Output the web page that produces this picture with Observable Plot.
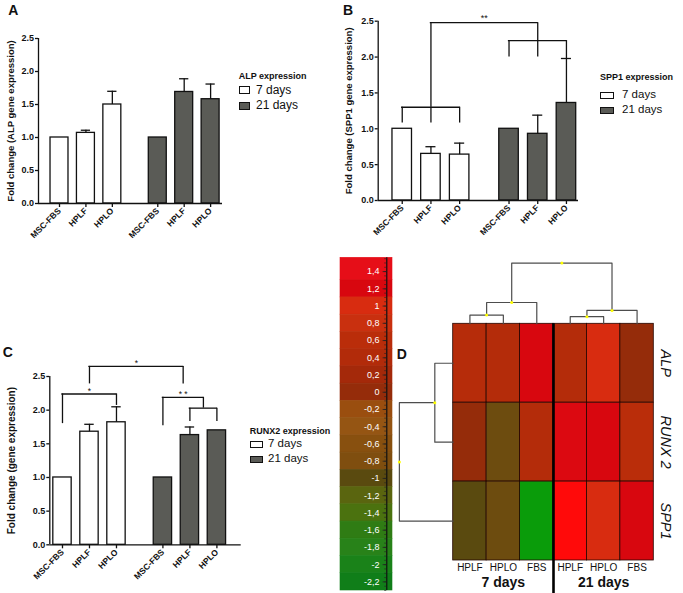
<!DOCTYPE html>
<html><head><meta charset="utf-8">
<script src="https://cdn.jsdelivr.net/npm/d3@7"></script>
<script src="https://cdn.jsdelivr.net/npm/@observablehq/plot@0.6"></script>
<style>
body{margin:0;background:#fff;}
#root{position:relative;width:683px;height:593px;overflow:hidden;font-family:"Liberation Sans",Arial,sans-serif;color:#111;}
</style></head><body><div id="root"></div>
<script>
// ---------- data ----------
const samples = ["MSC-FBS","HPLF","HPLO","MSC-FBS","HPLF","HPLO"];
const days = ["7 days","7 days","7 days","21 days","21 days","21 days"];
const yTicks = [0, 0.5, 1, 1.5, 2, 2.5];

const alpMean  = [1.00, 1.07, 1.50, 1.00, 1.69, 1.58];
const alpErr   = [0, 0.04, 0.20, 0, 0.20, 0.23];
const spp1Mean = [1.00, 0.65, 0.64, 1.00, 0.93, 1.36];
const spp1Err  = [0, 0.10, 0.16, 0, 0.26, 0.62];
const runx2Mean = [1.00, 1.68, 1.82, 1.00, 1.63, 1.70];
const runx2Err  = [0, 0.11, 0.23, 0, 0.12, 0];

// significance brackets: "at" = bar index or id of a sub-bracket (its midpoint)
const spp1Brackets = [
  {id: "L", at: [0, 1, 2], level: 1.30, ends: [1.08, 1.08, 1.08]},
  {id: "R", at: [3, 4, 5], level: 2.23, ends: [2.00, 2.00, 1.98]},
  {id: "T", at: ["L", "R"], level: 2.48, ends: [1.30, 2.23], label: "**"}
];
const runx2Brackets = [
  {id: "a", at: [0, 2], level: 2.24, ends: [1.80, 2.07], label: "*"},
  {id: "c", at: [4, 5], level: 2.03, ends: [1.83, 1.83]},
  {id: "b", at: [3, "c"], level: 2.19, ends: [1.77, 2.03], label: "* *"},
  {id: "d", at: [1, "b"], level: 2.65, ends: [2.39, 2.39], label: "*"}
];

// heatmap
const heatRows = ["ALP", "RUNX 2", "SPP1"];
const heatCols = ["HPLF", "HPLO", "FBS", "HPLF", "HPLO", "FBS"];
const heatGroups = ["7 days", "21 days"];
const heatALP   = [0.50, 0.45, 1.20, 0.45, 1.00, 0.00];
const heatRUNX2 = [0.00, -0.90, 0.45, 1.25, 1.20, 0.60];
const heatSPP1  = [-1.00, -0.90, -2.60, 1.60, 1.00, 1.20];
const colLinkage = [[0, 1, 0.11], [6, 2, 0.27], [3, 4, 0.09], [8, 5, 0.17], [7, 9, 0.77]];
const rowLinkage = [[0, 1, 0.55], [3, 2, 1.61]];

const scaleTicks  = [1.4, 1.2, 1, 0.8, 0.6, 0.4, 0.2, 0, -0.2, -0.4, -0.6, -0.8, -1, -1.2, -1.4, -1.6, -1.8, -2, -2.2];
const scaleColors = ["#e60e18","#d8070f","#d82c10","#c9300f","#ba2d0a","#b22b0a","#a4290a","#952c0a","#9a4e0f","#955513",
                     "#88500f","#7f4e0f","#5a4a0f","#5a650f","#4b720f","#2f7c14","#288219","#1a8219","#107e19"];
const extremeLow = [-2.6, "#0a9c0a"];
const extremeHigh = [1.6, "#ff0a0a"];

// ---------- layout helpers ----------
const FONT = "'Liberation Sans', Arial, sans-serif";
const root = document.getElementById("root");
function place(el, left, top) {
  const d = document.createElement("div");
  d.style.cssText = `position:absolute;left:${left}px;top:${top}px;`;
  d.appendChild(el); root.appendChild(d);
}
function addText(txt, left, top, css) {
  const d = document.createElement("div");
  d.textContent = txt;
  d.style.cssText = `position:absolute;left:${left}px;top:${top}px;line-height:1;white-space:nowrap;${css}`;
  root.appendChild(d);
}
function addBox(left, top, w, h, fill) {
  const d = document.createElement("div");
  d.style.cssText = `position:absolute;left:${left}px;top:${top}px;width:${w}px;height:${h}px;box-sizing:border-box;border:1.3px solid #111;background:${fill};`;
  root.appendChild(d);
}

const GAP = 0.72, BW = 0.68, CAP = 0.175;
const pos = i => i + (i >= 3 ? GAP : 0);
const DARK = "#5a5b56";

function resolveBrackets(defs) {
  const byId = new Map();
  return defs.map(b => {
    const xs = b.at.map(a => typeof a === "number" ? pos(a) : byId.get(a).mid);
    const x1 = d3.min(xs), x2 = d3.max(xs);
    const r = {...b, xs, x1, x2, mid: (x1 + x2) / 2};
    byId.set(b.id, r);
    return r;
  });
}

function barPanel(cfg) {
  const rows = samples.map((s, i) => ({x: pos(i), s, day: days[i], v: cfg.mean[i], e: cfg.err[i]}));
  const lab = new Map(rows.map(r => [r.x, r.s]));
  const withErr = rows.filter(r => r.e > 0);
  const br = resolveBrackets(cfg.brackets || []);
  const drops = br.flatMap(b => b.xs.map((x, j) => ({x, y1: b.ends[j], y2: b.level})));
  const ink = {stroke: "#111", strokeWidth: 1.3};
  const svg = Plot.plot({
    width: cfg.width, height: cfg.height,
    marginLeft: cfg.m[0], marginRight: cfg.m[1], marginTop: cfg.m[2], marginBottom: cfg.m[3],
    x: {domain: cfg.xDom}, y: {domain: [0, 2.5]},
    style: {fontFamily: FONT, fontSize: "9px", fontWeight: "bold", color: "#111", background: "none", overflow: "visible"},
    marks: [
      Plot.rect(rows.filter(r => r.day === days[0]), {x1: r => r.x - BW / 2, x2: r => r.x + BW / 2, y1: 0, y2: "v", fill: "#fff", ...ink}),
      Plot.rect(rows.filter(r => r.day !== days[0]), {x1: r => r.x - BW / 2, x2: r => r.x + BW / 2, y1: 0, y2: "v", fill: DARK, ...ink}),
      Plot.ruleX(withErr, {x: "x", y1: "v", y2: r => r.v + r.e, ...ink}),
      Plot.ruleY(withErr, {y: r => r.v + r.e, x1: r => r.x - CAP, x2: r => r.x + CAP, ...ink}),
      Plot.ruleY([0], ink),
      Plot.ruleX([cfg.xDom[0]], {y1: 0, y2: 2.5, ...ink}),
      Plot.axisY(yTicks, {tickFormat: d3.format(".1f"), tickSize: 3, tickPadding: 1.5, strokeWidth: 1.3, label: null}),
      Plot.axisX(rows.map(r => r.x), {tickFormat: d => lab.get(d), tickRotate: -45, tickSize: 4, tickPadding: 2, fontSize: 8.5, strokeWidth: 1.3, label: null}),
      Plot.text([cfg.ylabel], {text: d => d, frameAnchor: "left", textAnchor: "middle", dx: cfg.ylDx, rotate: -90, fontSize: cfg.ylSize}),
      Plot.ruleY(br, {y: "level", x1: "x1", x2: "x2", ...ink, strokeLinecap: "square"}),
      Plot.ruleX(drops, {x: "x", y1: "y1", y2: "y2", ...ink}),
      Plot.text(br.filter(b => b.label), {x: "mid", y: "level", text: "label", dy: cfg.starDy, fontSize: cfg.starSize, fontWeight: "normal"})
    ]
  });
  place(svg, cfg.left, cfg.top);
}

// ---------- panel A ----------
barPanel({left: 0, top: 0, width: 340, height: 290, m: [38, 118, 38, 87], xDom: [-0.795, 6.17],
  mean: alpMean, err: alpErr, ylabel: "Fold change (ALP gene expression)", ylDx: -28, ylSize: 9.5});
// ---------- panel B ----------
barPanel({left: 340, top: 0, width: 343, height: 290, m: [37.7, 105, 20.7, 90], xDom: [-0.837, 6.14],
  mean: spp1Mean, err: spp1Err, ylabel: "Fold change (SPP1 gene expression)", ylDx: -29.4, ylSize: 9.5,
  brackets: spp1Brackets, starDy: -5, starSize: 9});
// ---------- panel C ----------
barPanel({left: 0, top: 290, width: 340, height: 303, m: [49.3, 99.3, 86, 48.7], xDom: [-0.47, 6.62],
  mean: runx2Mean, err: runx2Err, ylabel: "Fold change (gene expression)", ylDx: -38, ylSize: 10,
  brackets: runx2Brackets, starDy: -3, starSize: 8.5});

// legends
function legendBlock(title, x, titleTop, boxX, boxW, boxH, boxTops, textX, fs) {
  addText(title, x, titleTop, "font-size:9px;font-weight:bold;");
  [["7 days", "#fff"], ["21 days", DARK]].forEach(([t, f], i) => {
    addBox(boxX, boxTops[i], boxW, boxH, f);
    addText(t, textX, boxTops[i] + boxH / 2 - fs * 0.55, `font-size:${fs}px;`);
  });
}
legendBlock("ALP expression", 238.7, 71.6, 238.7, 11.6, 8.3, [86, 101.7], 256, 12);
legendBlock("SPP1 expression", 600, 73.3, 600, 13.5, 7.5, [91.7, 106.7], 622, 11.5);
legendBlock("RUNX2 expression", 249.7, 427.3, 249.7, 13.6, 7.6, [440.7, 455.7], 268, 11.5);

// panel letters
addText("A", 8.3, 3.2, "font-size:14px;font-weight:bold;");
addText("B", 343, 3.2, "font-size:14px;font-weight:bold;");
addText("C", 2.7, 344.9, "font-size:14px;font-weight:bold;");

// ---------- panel D ----------
const colorDomain = [extremeLow[0], ...scaleTicks.slice().reverse(), extremeHigh[0]];
const colorRange = [extremeLow[1], ...scaleColors.slice().reverse(), extremeHigh[1]];
const COLOR = {type: "linear", domain: colorDomain, range: colorRange, interpolate: "rgb"};

const heatValues = [heatALP, heatRUNX2, heatSPP1];
const cells = heatRows.flatMap((r, ri) => heatValues[ri].map((v, ci) => ({ri, ci, v})));

function dendro(linkage, n, leafPos) {
  const nodes = d3.range(n).map(i => ({p: leafPos(i), h: 0}));
  const pts = [], merges = [];
  linkage.forEach(([a, b, h], k) => {
    const A = nodes[a], B = nodes[b];
    pts.push({k, p: A.p, h: A.h}, {k, p: A.p, h}, {k, p: B.p, h}, {k, p: B.p, h: B.h});
    const node = {p: (A.p + B.p) / 2, h};
    nodes.push(node); merges.push(node);
  });
  return {pts, merges};
}
const colDen = dendro(colLinkage, heatCols.length, i => i + 0.5);
const rowDen = dendro(rowLinkage, heatRows.length, i => i + 0.5);
const groupSize = heatCols.length / heatGroups.length;

const heat = Plot.plot({
  width: 288, height: 338, marginLeft: 57.7, marginRight: 29.7, marginTop: 68.3, marginBottom: 33,
  x: {domain: [0, 6], axis: null}, y: {domain: [0, 3], reverse: true, axis: null},
  color: COLOR,
  style: {fontFamily: FONT, fontSize: "10px", color: "#111", background: "none", overflow: "visible"},
  marks: [
    Plot.rect(cells, {x1: "ci", x2: d => d.ci + 1, y1: "ri", y2: d => d.ri + 1, fill: "v", stroke: "#240600", strokeWidth: 0.8}),
    Plot.ruleX([groupSize], {y1: 0, y2: 3.42, stroke: "#000", strokeWidth: 2.6}),
    Plot.line(colDen.pts, {x: "p", y: d => -d.h, z: "k", stroke: "#4d4d4d", strokeWidth: 1.2}),
    Plot.line(rowDen.pts, {x: d => -d.h, y: "p", z: "k", stroke: "#4d4d4d", strokeWidth: 1.2}),
    Plot.dot(colDen.merges, {x: "p", y: d => -d.h, r: 1.5, fill: "#ffff00"}),
    Plot.dot(rowDen.merges, {x: d => -d.h, y: "p", r: 1.5, fill: "#ffff00"}),
    Plot.text(heatCols, {x: (d, i) => i + 0.5, y: 3, dy: 7, fontSize: 10, text: d => d}),
    Plot.text(heatGroups, {x: (d, i) => i * groupSize + groupSize / 2, y: 3, dy: 22, fontSize: 14, fontWeight: "bold", text: d => d}),
    Plot.text(heatRows, {x: 6, y: (d, i) => i + 0.5, dx: 12, rotate: 90, fontSize: 14.5, fontStyle: "italic", text: d => d})
  ]
});
place(heat, 395, 255);

// color scale bar
const BAR_DOMAIN = [-2.3, 1.56];
const minorTicks = d3.range(-2.3, 1.56, 0.05);
const bar = Plot.plot({
  width: 62, height: 344, marginLeft: 5, marginRight: 5, marginTop: 7.3, marginBottom: 4,
  x: {domain: [0, 1], axis: null}, y: {domain: BAR_DOMAIN, axis: null},
  color: COLOR,
  style: {fontFamily: FONT, fontSize: "9px", background: "none", overflow: "visible"},
  marks: [
    Plot.rect(scaleTicks, {x1: 0, x2: 1,
      y1: (d, i) => i === scaleTicks.length - 1 ? BAR_DOMAIN[0] : d - 0.1,
      y2: (d, i) => i === 0 ? BAR_DOMAIN[1] : d + 0.1, fill: d => d, stroke: d => d, strokeWidth: 0.6}),
    Plot.ruleX([0.89], {stroke: "#111", strokeWidth: 1.2}),
    Plot.ruleY(minorTicks, {x1: 0.85, x2: 0.89, stroke: "#222", strokeWidth: 0.6}),
    Plot.ruleY(scaleTicks, {x1: 0.82, x2: 0.89, stroke: "#222", strokeWidth: 0.8}),
    Plot.text(scaleTicks, {x: 0.75, y: d => d, text: d => String(d).replace(".", ","), textAnchor: "end", fill: "#fff", fontSize: 9})
  ]
});
place(bar, 335, 250);

addText("D", 396.7, 346.5, "font-size:14px;font-weight:bold;");
</script></body></html>
